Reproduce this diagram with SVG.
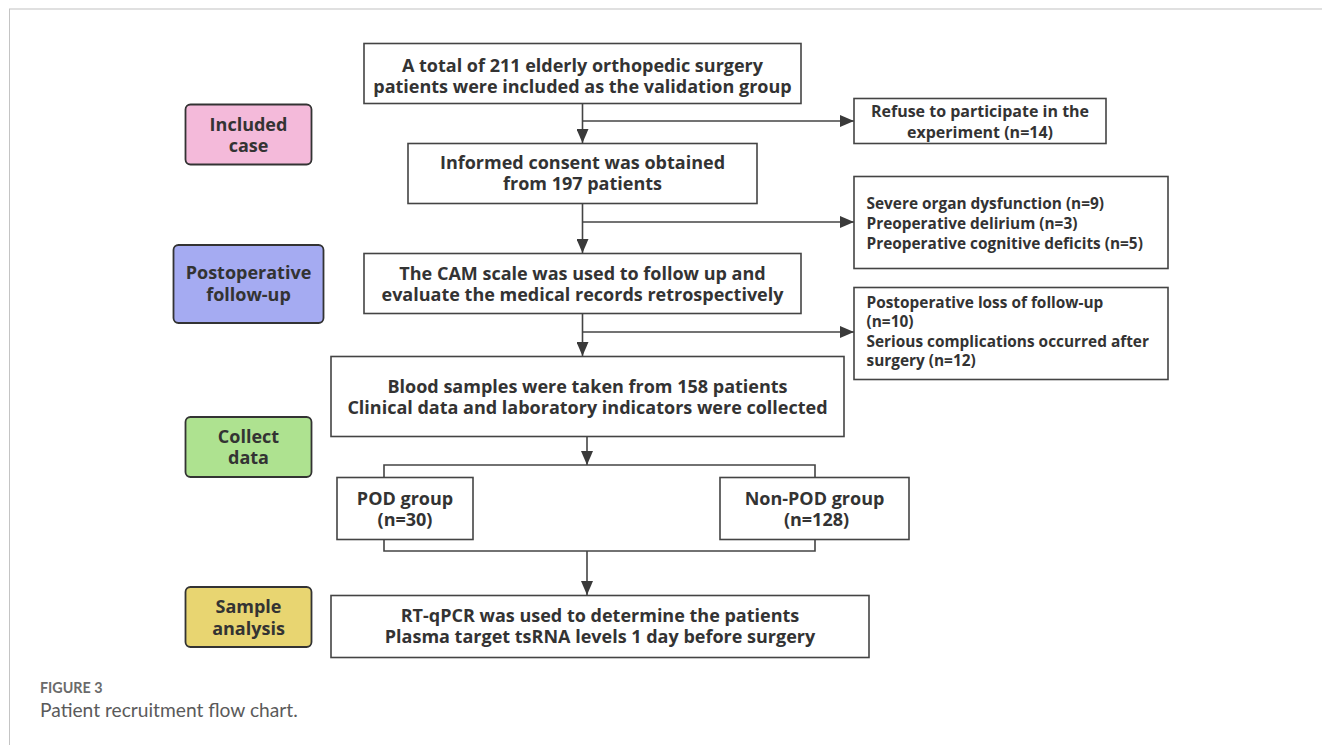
<svg xmlns="http://www.w3.org/2000/svg" width="1322" height="745" viewBox="0 0 1322 745">
<defs>
<marker id="arr" markerUnits="userSpaceOnUse" markerWidth="16" markerHeight="12" refX="14" refY="6" orient="auto">
<path d="M0,0 L14,6 L0,12 Z" fill="#3a3a3a"/>
</marker>
<style>
.box{fill:#fff;stroke:#444;stroke-width:1.6}
.lab{stroke:#333;stroke-width:1.8}
.t{font-family:"Open Sans",sans-serif;font-weight:bold;font-size:18px;fill:#333;text-anchor:middle}
.s{font-family:"Open Sans",sans-serif;font-weight:bold;font-size:15.4px;fill:#333}
.r{font-family:"Open Sans",sans-serif;font-weight:bold;font-size:16px;fill:#333;text-anchor:middle}
.lt{font-family:"Open Sans",sans-serif;font-weight:bold;font-size:18px;fill:#333;text-anchor:middle}
.c{fill:none;stroke:#444;stroke-width:1.6}
</style>
</defs>
<rect width="1322" height="745" fill="#fff"/>
<line x1="9" y1="9" x2="1322" y2="9" stroke="#e0e0e0" stroke-width="2"/>
<line x1="9.5" y1="9" x2="9.5" y2="745" stroke="#c4c4c4" stroke-width="1"/>

<g id="connectors">
<line class="c" x1="582.5" y1="104" x2="582.5" y2="143" marker-end="url(#arr)"/>
<line class="c" x1="582.5" y1="121" x2="854" y2="121" marker-end="url(#arr)"/>
<line class="c" x1="582.5" y1="204" x2="582.5" y2="253" marker-end="url(#arr)"/>
<line class="c" x1="582.5" y1="222" x2="854" y2="222" marker-end="url(#arr)"/>
<line class="c" x1="582.5" y1="314" x2="582.5" y2="356" marker-end="url(#arr)"/>
<line class="c" x1="582.5" y1="332" x2="854" y2="332" marker-end="url(#arr)"/>
<line class="c" x1="587" y1="436" x2="587" y2="465" marker-end="url(#arr)"/>
<polyline class="c" points="384,477 384,465 815,465 815,477"/>
<polyline class="c" points="384,539 384,551 815,551 815,539"/>
<line class="c" x1="587" y1="551" x2="587" y2="595" marker-end="url(#arr)"/>
</g>

<g id="label-included">
<rect class="lab" x="185.5" y="104.5" width="126" height="60" rx="5" fill="#F4BADA"/>
<text class="lt"><tspan x="248.5" y="130.5">Included</tspan><tspan x="248.5" y="152">case</tspan></text>
</g>
<g id="label-followup">
<rect class="lab" x="173.5" y="245" width="150" height="78" rx="5" fill="#A5ABF2"/>
<text class="lt"><tspan x="248.5" y="278.5">Postoperative</tspan><tspan x="248.5" y="300.5">follow-up</tspan></text>
</g>
<g id="label-collect">
<rect class="lab" x="185.5" y="417" width="126" height="60" rx="5" fill="#AEE290"/>
<text class="lt"><tspan x="248.5" y="442.5">Collect</tspan><tspan x="248.5" y="464">data</tspan></text>
</g>
<g id="label-sample">
<rect class="lab" x="185.5" y="587" width="126" height="60" rx="5" fill="#E8D571"/>
<text class="lt"><tspan x="248.5" y="613">Sample</tspan><tspan x="248.5" y="634.5">analysis</tspan></text>
</g>

<g id="box-total">
<rect class="box" x="364" y="43.5" width="437" height="60"/>
<text class="t"><tspan x="582.5" y="72">A total of 211 elderly orthopedic surgery</tspan><tspan x="582.5" y="93">patients were included as the validation group</tspan></text>
</g>
<g id="box-consent">
<rect class="box" x="408" y="143.5" width="349" height="60"/>
<text class="t"><tspan x="582.5" y="169">Informed consent was obtained</tspan><tspan x="582.5" y="190">from 197 patients</tspan></text>
</g>
<g id="box-cam">
<rect class="box" x="364" y="253.5" width="437" height="60"/>
<text class="t"><tspan x="582.5" y="279.5">The CAM scale was used to follow up and</tspan><tspan x="582.5" y="300.5">evaluate the medical records retrospectively</tspan></text>
</g>
<g id="box-blood">
<rect class="box" x="331" y="356.5" width="513" height="80"/>
<text class="t"><tspan x="587.5" y="393">Blood samples were taken from 158 patients</tspan><tspan x="587.5" y="414">Clinical data and laboratory indicators were collected</tspan></text>
</g>
<g id="box-pod">
<rect class="box" x="337" y="477.5" width="136" height="62"/>
<text class="t"><tspan x="405" y="505">POD group</tspan><tspan x="405" y="526">(n=30)</tspan></text>
</g>
<g id="box-nonpod">
<rect class="box" x="720" y="477.5" width="189" height="62"/>
<text class="t"><tspan x="814.5" y="505">Non-POD group</tspan><tspan x="816.5" y="526">(n=128)</tspan></text>
</g>
<g id="box-rtqpcr">
<rect class="box" x="331" y="595.5" width="538" height="62"/>
<text class="t"><tspan x="600" y="622">RT-qPCR was used to determine the patients</tspan><tspan x="600" y="643">Plasma target tsRNA levels 1 day before surgery</tspan></text>
</g>
<g id="box-refuse">
<rect class="box" x="854" y="98.5" width="252" height="45"/>
<text class="r"><tspan x="980" y="117">Refuse to participate in the</tspan><tspan x="980" y="137.5">experiment (n=14)</tspan></text>
</g>
<g id="box-exclude">
<rect class="box" x="854" y="176.5" width="314" height="92"/>
<text class="s"><tspan x="866.5" y="209">Severe organ dysfunction (n=9)</tspan><tspan x="866.5" y="229">Preoperative delirium (n=3)</tspan><tspan x="866.5" y="249">Preoperative cognitive deficits (n=5)</tspan></text>
</g>
<g id="box-loss">
<rect class="box" x="854" y="287.5" width="314" height="92"/>
<text class="s"><tspan x="866.5" y="307.5">Postoperative loss of follow-up</tspan><tspan x="866.5" y="327">(n=10)</tspan><tspan x="866.5" y="346.5">Serious complications occurred after</tspan><tspan x="866.5" y="366">surgery (n=12)</tspan></text>
</g>

<g id="caption">
<text x="40" y="693" font-family="Lato,'Open Sans',sans-serif" font-weight="bold" font-size="14.3" fill="#6a6a6a">FIGURE 3</text>
<text x="40" y="717" font-family="Lato,'Open Sans',sans-serif" font-size="19.2" fill="#5a5a5a">Patient recruitment flow chart.</text>
</g>
</svg>
